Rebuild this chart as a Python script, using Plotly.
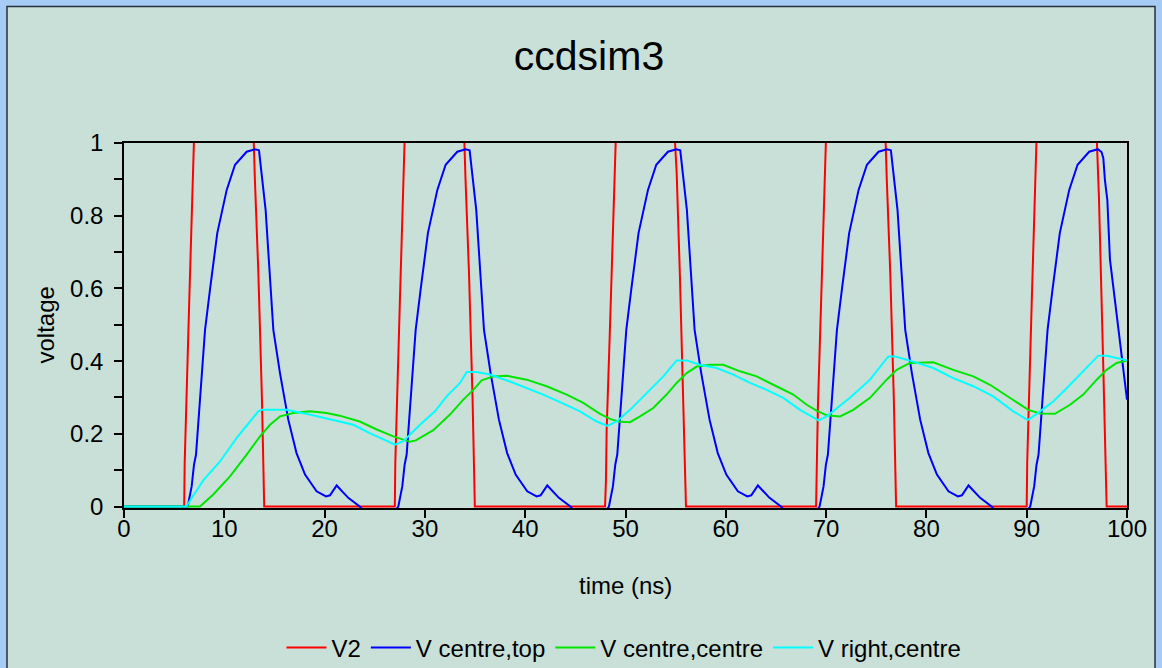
import plotly.graph_objects as go

# ---------------- data ----------------
v2_t = [0.0, 6.0, 6.05, 6.18, 6.5, 6.97, 7.3, 12.6, 12.92, 13.05, 13.4, 13.75, 13.98,
        27.0, 27.05, 27.18, 27.5, 27.97, 28.3, 33.6, 33.92, 34.05, 34.4, 34.75, 34.98,
        47.96, 48.05, 48.12, 48.45, 48.79, 49.02, 49.3, 54.6, 54.94, 55.1, 55.43, 55.76, 56.03,
        69.0, 69.05, 69.18, 69.5, 69.97, 70.3, 75.6, 75.92, 76.05, 76.4, 76.75, 76.98,
        90.0, 90.05, 90.18, 90.5, 90.97, 91.3, 96.6, 96.98, 97.08, 97.2, 97.64, 97.97, 100.0]
v2_v = [0.0, 0.0, 0.12, 0.27, 0.56, 1.0, 1.3, 1.3, 1.0, 0.9, 0.64, 0.3, 0.0,
        0.0, 0.12, 0.27, 0.56, 1.0, 1.3, 1.3, 1.0, 0.9, 0.64, 0.3, 0.0,
        0.0, 0.07, 0.21, 0.49, 0.76, 1.0, 1.3, 1.3, 1.0, 0.92, 0.63, 0.3, 0.0,
        0.0, 0.12, 0.27, 0.56, 1.0, 1.3, 1.3, 1.0, 0.9, 0.64, 0.3, 0.0,
        0.0, 0.12, 0.27, 0.56, 1.0, 1.3, 1.3, 1.0, 0.9, 0.853, 0.38, 0.0, 0.0]

top_t = [0.0,
         6.35, 6.75, 6.98, 7.18, 7.58, 8.08, 8.57, 9.3, 10.24, 11.07, 12.23, 13.06, 13.46, 13.89,
         14.12, 14.89, 15.55, 16.38, 17.2, 18.05, 19.2, 20.14, 20.54, 21.2, 22.36, 23.5, 24.5, 26.5,
         27.35, 27.75, 27.98, 28.18, 28.58, 29.08, 29.57, 30.3, 31.24, 32.07, 33.23, 34.06, 34.46, 34.89,
         35.12, 35.89, 36.55, 37.38, 38.2, 39.05, 40.2, 41.14, 41.54, 42.2, 43.36, 44.5, 45.5, 47.5,
         48.35, 48.75, 48.98, 49.18, 49.58, 50.08, 50.57, 51.3, 52.24, 53.07, 54.23, 55.06, 55.46, 55.89,
         56.12, 56.89, 57.55, 58.38, 59.2, 60.05, 61.2, 62.14, 62.54, 63.2, 64.36, 65.5, 66.5, 68.5,
         69.35, 69.75, 69.98, 70.18, 70.58, 71.08, 71.57, 72.3, 73.24, 74.07, 75.23, 76.06, 76.46, 76.89,
         77.12, 77.89, 78.55, 79.38, 80.2, 81.05, 82.2, 83.14, 83.54, 84.2, 85.36, 86.5, 87.5, 89.5,
         90.35, 90.75, 90.98, 91.18, 91.58, 92.08, 92.57, 93.3, 94.24, 95.07, 96.23, 97.1, 97.46, 97.64,
         97.8, 98.04, 98.3, 99.13, 100.0]
top_v = [0.0,
         0.0, 0.056, 0.115, 0.143, 0.303, 0.486, 0.596, 0.752, 0.871, 0.94, 0.976, 0.983, 0.98, 0.871,
         0.816, 0.486, 0.367, 0.239, 0.147, 0.088, 0.042, 0.028, 0.031, 0.058, 0.024, 0.0, -0.03, -0.03,
         0.0, 0.056, 0.115, 0.143, 0.303, 0.486, 0.596, 0.752, 0.871, 0.94, 0.976, 0.983, 0.98, 0.871,
         0.816, 0.486, 0.367, 0.239, 0.147, 0.088, 0.042, 0.028, 0.031, 0.058, 0.024, 0.0, -0.03, -0.03,
         0.0, 0.056, 0.115, 0.143, 0.303, 0.486, 0.596, 0.752, 0.871, 0.94, 0.976, 0.983, 0.98, 0.871,
         0.816, 0.486, 0.367, 0.239, 0.147, 0.088, 0.042, 0.028, 0.031, 0.058, 0.024, 0.0, -0.03, -0.03,
         0.0, 0.056, 0.115, 0.143, 0.303, 0.486, 0.596, 0.752, 0.871, 0.94, 0.976, 0.983, 0.98, 0.871,
         0.816, 0.486, 0.367, 0.239, 0.147, 0.088, 0.042, 0.028, 0.031, 0.058, 0.024, 0.0, -0.03, -0.03,
         0.0, 0.056, 0.115, 0.143, 0.303, 0.486, 0.596, 0.752, 0.871, 0.94, 0.976, 0.983, 0.975, 0.958,
         0.898, 0.843, 0.68, 0.486, 0.294]

cc_t = [0.0, 7.58, 8.9, 10.57, 12.23, 13.56, 14.56, 15.55, 16.88, 18.55, 20.2, 21.5, 23.5, 25.2,
        26.85, 28.51, 29.1, 30.84, 32.5, 33.83, 34.83, 35.66, 36.82, 38.15, 40.15, 42.14, 44.14,
        45.79, 47.46, 48.45, 49.45, 50.45, 51.45, 52.77, 54.1, 55.1, 56.1, 57.1, 58.42, 59.75,
        61.42, 63.08, 64.74, 66.73, 68.07, 69.06, 70.06, 71.39, 72.71, 74.38, 76.04, 77.04, 78.36,
        80.69, 82.68, 84.68, 86.34, 87.34, 88.66, 90.16, 91.33, 92.82, 94.32, 95.64, 96.98, 97.97,
        98.97, 100.0]
cc_v = [0.0, 0.0, 0.033, 0.083, 0.143, 0.193, 0.225, 0.248, 0.257, 0.262, 0.257, 0.25, 0.234, 0.212,
        0.193, 0.178, 0.182, 0.21, 0.253, 0.294, 0.321, 0.347, 0.358, 0.36, 0.349, 0.331, 0.308,
        0.285, 0.255, 0.241, 0.233, 0.232, 0.248, 0.271, 0.308, 0.34, 0.367, 0.385, 0.39, 0.39,
        0.372, 0.358, 0.335, 0.308, 0.28, 0.264, 0.251, 0.248, 0.266, 0.299, 0.349, 0.376, 0.395,
        0.397, 0.376, 0.358, 0.335, 0.317, 0.294, 0.266, 0.256, 0.255, 0.28, 0.308, 0.349, 0.376,
        0.395, 0.402]

rc_t = [0.0, 6.2, 7.9, 9.57, 11.24, 12.56, 13.39, 13.73, 16.2, 18.5, 20.5, 22.86, 24.5, 25.85,
        27.02, 27.85, 28.18, 29.51, 31.0, 32.17, 33.5, 34.17, 35.16, 36.49, 38.48, 40.15, 41.8,
        43.64, 45.46, 47.13, 48.2, 49.12, 50.45, 52.11, 53.77, 55.1, 56.1, 57.43, 59.09, 60.75,
        62.41, 64.08, 65.73, 67.4, 68.73, 69.25, 70.06, 71.39, 72.38, 74.38, 76.2, 76.87, 78.04,
        80.69, 82.68, 84.68, 86.67, 88.66, 90.1, 91.0, 92.65, 94.32, 95.98, 97.14, 97.97, 98.97,
        100.0]
rc_v = [0.0, 0.0, 0.072, 0.124, 0.189, 0.234, 0.262, 0.266, 0.266, 0.253, 0.241, 0.225, 0.202, 0.186,
        0.17, 0.18, 0.189, 0.225, 0.262, 0.303, 0.34, 0.37, 0.37, 0.363, 0.344, 0.326, 0.308,
        0.285, 0.262, 0.234, 0.222, 0.234, 0.266, 0.312, 0.358, 0.402, 0.402, 0.39, 0.381, 0.363,
        0.34, 0.321, 0.299, 0.266, 0.244, 0.237, 0.248, 0.277, 0.299, 0.349, 0.413, 0.413, 0.404,
        0.381, 0.353, 0.331, 0.303, 0.262, 0.238, 0.255, 0.289, 0.335, 0.381, 0.415, 0.415, 0.409,
        0.402]

series_names = ["V2", "V centre,top", "V centre,centre", "V right,centre"]
series_colors = ["#ff0000", "#0000ff", "#00e600", "#00ffff"]
x_ticks = [0, 10, 20, 30, 40, 50, 60, 70, 80, 90, 100]
y_ticks = [0, 0.2, 0.4, 0.6, 0.8, 1]
y_tick_text = ["0", "0.2", "0.4", "0.6", "0.8", "1"]
y_minor = [0.1, 0.3, 0.5, 0.7, 0.9]

# ---------------- figure ----------------
FONT = "Liberation Sans, Arial, Helvetica, sans-serif"
FS = 24
W, H = 1162, 668
L, R, T, B = 124, 35, 143, 160

fig = go.Figure()
for (tx, vy), name, col in zip([(v2_t, v2_v), (top_t, top_v), (cc_t, cc_v), (rc_t, rc_v)],
                               series_names, series_colors):
    fig.add_trace(go.Scatter(x=tx, y=vy, mode="lines", name=name,
                             line=dict(color=col, width=2)))

pw, ph = W - L - R, H - T - B
def px_x(X):
    return (X - L) / pw
def px_y(Y):
    return (H - B - Y) / ph

fig.add_shape(type="rect", xref="paper", yref="paper", layer="below",
              x0=px_x(7), x1=px_x(1155), y0=px_y(700), y1=px_y(6.5),
              fillcolor="#c9e0d8", line=dict(color="#26303c", width=1.5))

fig.update_layout(
    width=W, height=H,
    margin=dict(l=L, r=R, t=T, b=B, pad=0, autoexpand=False),
    paper_bgcolor="#a6cbf5",
    plot_bgcolor="rgba(0,0,0,0)",
    font=dict(family=FONT, size=FS, color="black"),
    title=dict(text="ccdsim3", x=589 / W, xref="container", xanchor="center",
               y=1 - 56 / H, yref="container", yanchor="middle",
               font=dict(size=41, family=FONT, color="black")),
    showlegend=True,
    legend=dict(orientation="h", xref="container", yref="container",
                x=624 / W, xanchor="center", y=1 - 648 / H, yanchor="middle",
                bgcolor="rgba(0,0,0,0)", font=dict(size=FS, family=FONT), itemwidth=40),
    xaxis=dict(range=[0, 100], tickvals=x_ticks, ticks="outside", ticklen=8, tickwidth=1.5,
               tickcolor="black", showline=True, linecolor="black", linewidth=1.5, mirror=True,
               showgrid=False, zeroline=False, layer="below traces", automargin=False,
               ticklabelstandoff=-10,
               tickfont=dict(size=FS, family=FONT)),
    yaxis=dict(range=[-0.004, 1.0], tickvals=y_ticks, ticktext=y_tick_text, ticks="outside",
               ticklen=8, tickwidth=1.5, tickcolor="black", showline=True, linecolor="black",
               linewidth=1.5, mirror=True, showgrid=False, zeroline=False, layer="below traces",
               ticklabelstandoff=6, automargin=False,
               minor=dict(tickvals=y_minor, ticks="outside", ticklen=8, tickwidth=1.5,
                          tickcolor="black", showgrid=False),
               tickfont=dict(size=FS, family=FONT)),
    annotations=[
        dict(text="time (ns)", xref="paper", yref="paper", x=0.5, y=px_y(585),
             xanchor="center", yanchor="middle", showarrow=False,
             font=dict(size=FS, family=FONT)),
        dict(text="voltage", xref="paper", yref="paper", x=px_x(45), y=0.5, textangle=-90,
             xanchor="center", yanchor="middle", showarrow=False,
             font=dict(size=FS, family=FONT)),
    ],
)

fig.write_html("out.html")
